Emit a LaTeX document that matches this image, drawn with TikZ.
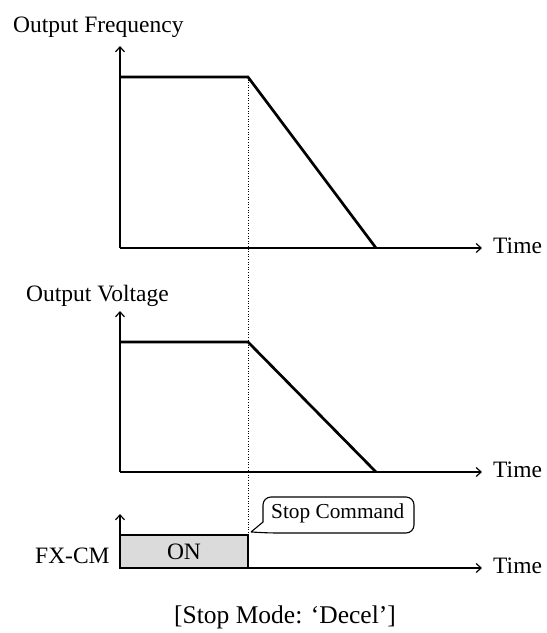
\documentclass[tikz,border=0pt]{standalone}
\usepackage{fontspec}
\setmainfont{Liberation Serif}
\usetikzlibrary{arrows.meta}
\begin{document}
\begin{tikzpicture}[x=1pt,y=-1pt,
  axis/.style={line width=1.2pt,-{Straight Barb[length=5pt,width=9pt,line width=1.2pt]}},
  curve/.style={line width=2.7pt,line join=miter},
  lbl/.style={inner sep=0pt,font=\fontsize{23.5}{28}\selectfont},
  onbox/.style={draw,line width=1.2pt,fill=black!14},
  callout/.style={line width=1.1pt},
  guide/.style={line width=0.6pt,dotted}]
\useasboundingbox (0,0) rectangle (547,633);
% coordinates
\coordinate (o1) at (120,248);
\coordinate (y1) at (120,46);
\coordinate (x1) at (482,248);
\coordinate (a1) at (120,77);
\coordinate (b1) at (248,77);
\coordinate (c1) at (376,248);
\coordinate (o2) at (120,472);
\coordinate (y2) at (120,311);
\coordinate (x2) at (482,472);
\coordinate (a2) at (120,342);
\coordinate (b2) at (248,342);
\coordinate (c2) at (376,472);
\coordinate (o3) at (120,568);
\coordinate (y3) at (120,514);
\coordinate (x3) at (482,568);
\coordinate (tip) at (251,532);
% labels
\node[lbl,anchor=base west] (lf) at (13,32) {Output Frequency};
\node[lbl,anchor=base west] (lv) at (26,301) {Output Voltage};
\node[lbl,anchor=base west] (lc) at (35,563) {FX-CM};
\node[lbl,anchor=base west] (t1) at (493,253) {Time};
\node[lbl,anchor=base west] (t2) at (493,477) {Time};
\node[lbl,anchor=base west] (t3) at (493,573) {Time};
% ON box
\draw[onbox] (120,535) rectangle (248,568);
\node[lbl,anchor=base] (on) at (184,559) {ON};
% guide
\draw[guide] (b1) -- (248,535);
% axes
\draw[axis] (o1) -- (y1);
\draw[axis] (o1) -- (x1);
\draw[axis] (o2) -- (y2);
\draw[axis] (o2) -- (x2);
\draw[axis] (o3) -- (y3);
\draw[axis] (o3) -- (x3);
% curves
\draw[curve] (a1) -- (b1) -- (c1);
\draw[curve] (a2) -- (b2) -- (c2);
% callout
\draw[callout] (tip) -- (263,522) [rounded corners=8pt] -- (263,497) -- (414,497) -- (414,533) -- (270,533) [sharp corners] -- (tip);
\node[inner sep=0pt,anchor=base west,font=\fontsize{21.3}{25}\selectfont] (sc) at (271,518) {Stop Command};
% caption
\node[inner sep=0pt,anchor=base,font=\fontsize{25.5}{30}\selectfont] (cap) at (285,623) {[Stop Mode: ‘Decel’]};
\end{tikzpicture}
\end{document}
